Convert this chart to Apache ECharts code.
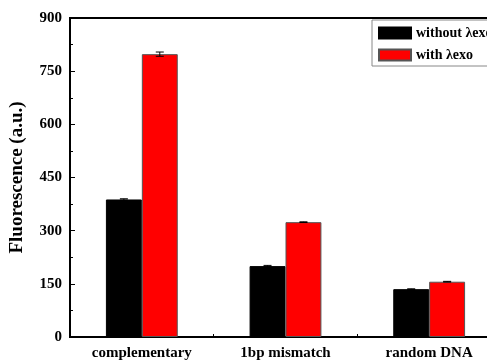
<!DOCTYPE html>
<html>
<head>
<meta charset="utf-8">
<script src="https://cdn.jsdelivr.net/npm/echarts@6/dist/echarts.min.js"></script>
<style>
  html, body { margin: 0; padding: 0; background: #fff; }
  #chart { width: 487px; height: 360px; }
</style>
</head>
<body>
<div id="chart"></div>
<script>
// Sample groups along the x axis
const categories = ['complementary', '1bp mismatch', 'random DNA'];
// Fluorescence intensity (a.u.)
const withoutExo = [388, 200, 135];
const withExo = [798, 324, 156];
// Standard deviations
const withoutExoErr = [2, 2, 1];
const withExoErr = [6, 1, 1];
// Y axis ticks
const yMin = 0, yMax = 900, yStep = 150;

const serif = '"Liberation Serif", "Times New Roman", serif';
const chart = echarts.init(document.getElementById('chart'));

// Error bar drawn on top of a bar; side = -1 (left bar) or +1 (right bar)
function errorBars(values, errs, side) {
  return {
    type: 'custom',
    z: 5,
    data: values.map((v, i) => [i, v, errs[i]]),
    renderItem: function (params, api) {
      const idx = api.value(0);
      const band = api.size([1, 0])[0];
      const hi = api.coord([idx, api.value(1) + api.value(2)]);
      const lo = api.coord([idx, api.value(1) - api.value(2)]);
      const x = hi[0] + side * band * 0.125;
      const cap = 4;
      const style = { stroke: '#000', lineWidth: 1 };
      return {
        type: 'group',
        children: [
          { type: 'line', shape: { x1: x, y1: hi[1], x2: x, y2: lo[1] }, style },
          { type: 'line', shape: { x1: x - cap, y1: hi[1], x2: x + cap, y2: hi[1] }, style },
          { type: 'line', shape: { x1: x - cap, y1: lo[1], x2: x + cap, y2: lo[1] }, style }
        ]
      };
    }
  };
}

chart.setOption({
  animation: false,
  backgroundColor: '#fff',
  grid: {
    left: 70, top: 18, bottom: 23, width: 431,
    outerBoundsMode: 'none',
    containLabel: false,
    show: true, borderColor: '#000', borderWidth: 2, backgroundColor: 'transparent'
  },
  legend: {
    left: 372, top: 20,
    orient: 'vertical',
    icon: 'rect',
    itemWidth: 32, itemHeight: 11, itemGap: 8,
    padding: [6, 30, 4, 6],
    borderColor: '#888', borderWidth: 1,
    backgroundColor: '#fff',
    textStyle: { fontFamily: serif, fontWeight: 'bold', fontSize: 14, color: '#000' },
    data: ['without \u03bbexo', 'with \u03bbexo']
  },
  xAxis: {
    type: 'category',
    data: categories,
    axisLine: { lineStyle: { color: '#000', width: 2 } },
    axisTick: { show: true, inside: true, length: 3, lineStyle: { color: '#000' } },
    axisLabel: { fontFamily: serif, fontWeight: 'bold', fontSize: 15, color: '#000', margin: 9 }
  },
  yAxis: {
    type: 'value',
    min: yMin, max: yMax, interval: yStep,
    name: 'Fluorescence (a.u.)',
    nameLocation: 'middle',
    nameGap: 43,
    nameTextStyle: { fontFamily: serif, fontWeight: 'bold', fontSize: 19, color: '#000' },
    axisLine: { show: true, lineStyle: { color: '#000', width: 2 } },
    axisTick: { show: true, inside: true, length: 5, lineStyle: { color: '#000' } },
    minorTick: { show: true, splitNumber: 2, length: 3, lineStyle: { color: '#000' } },
    splitLine: { show: false },
    axisLabel: { fontFamily: serif, fontWeight: 'bold', fontSize: 15, color: '#000', margin: 8 }
  },
  series: [
    {
      name: 'without \u03bbexo', type: 'bar', data: withoutExo,
      barWidth: '25%', barGap: '0%',
      itemStyle: { color: '#000', borderColor: '#000', borderWidth: 1 }
    },
    {
      name: 'with \u03bbexo', type: 'bar', data: withExo,
      barWidth: '25%', barGap: '0%',
      itemStyle: { color: '#ff0000', borderColor: '#555', borderWidth: 1 }
    },
    errorBars(withoutExo, withoutExoErr, -1),
    errorBars(withExo, withExoErr, 1)
  ]
});
</script>
</body>
</html>
